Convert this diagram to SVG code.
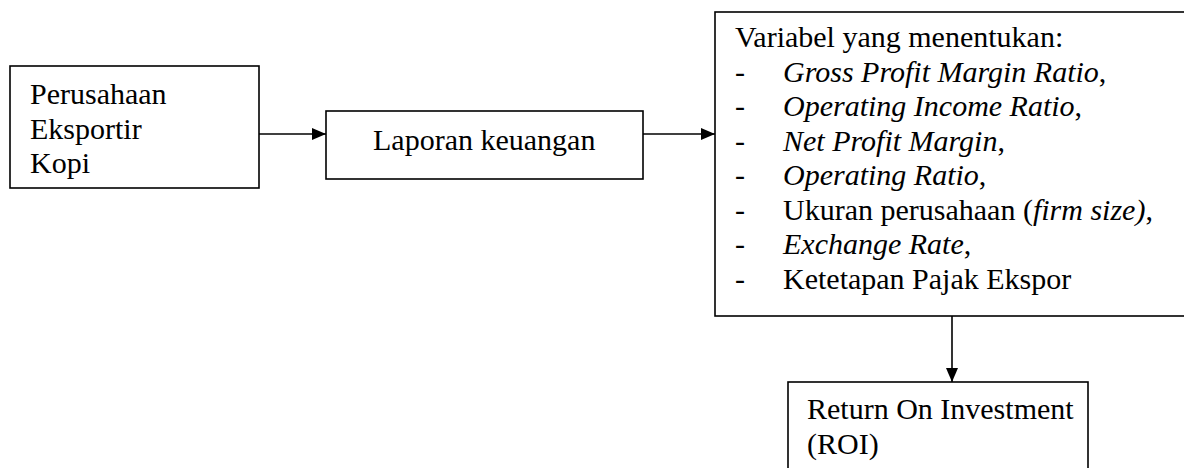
<svg xmlns="http://www.w3.org/2000/svg" width="1184" height="468" viewBox="0 0 1184 468">
  <style>
    .box { fill: #ffffff; stroke: #000000; stroke-width: 1.6; }
    .txt { font-family: "Liberation Serif", "Times New Roman", serif; font-size: 30px; fill: #000000; }
    .it { font-style: italic; }
    .link { fill: none; stroke: #000000; stroke-width: 1.6; }
  </style>
  <defs>
    <marker id="arrowHead" viewBox="0 0 14 12" refX="14" refY="6" markerWidth="14" markerHeight="12" markerUnits="userSpaceOnUse" orient="auto">
      <path d="M0,0 L14,6 L0,12 Z" fill="#000000"/>
    </marker>
  </defs>
  <rect width="1184" height="468" fill="#ffffff"/>

  <!-- company node -->
  <g id="perusahaan">
    <rect class="box" x="10" y="66" width="249" height="122"/>
    <text class="txt" x="30" y="104">Perusahaan</text>
    <text class="txt" x="30" y="138.5">Eksportir</text>
    <text class="txt" x="30" y="173">Kopi</text>
  </g>

  <!-- financial report node -->
  <g id="laporan">
    <rect class="box" x="326" y="111" width="317" height="68"/>
    <text class="txt" x="373" y="150">Laporan keuangan</text>
  </g>

  <!-- determining variables node (runs past the right edge) -->
  <g id="variabel">
    <rect class="box" x="715" y="12" width="480" height="304"/>
    <text class="txt" x="735" y="47">Variabel yang menentukan:</text>
    <text class="txt" x="735" y="81.5">-</text>
    <text class="txt" x="783" y="81.5"><tspan class="it">Gross Profit Margin Ratio</tspan>,</text>
    <text class="txt" x="735" y="116">-</text>
    <text class="txt" x="783" y="116"><tspan class="it">Operating Income Ratio</tspan>,</text>
    <text class="txt" x="735" y="150.5">-</text>
    <text class="txt" x="783" y="150.5"><tspan class="it">Net Profit Margin</tspan>,</text>
    <text class="txt" x="735" y="185">-</text>
    <text class="txt" x="783" y="185"><tspan class="it">Operating Ratio</tspan>,</text>
    <text class="txt" x="735" y="219.5">-</text>
    <text class="txt" x="783" y="219.5">Ukuran perusahaan (<tspan class="it">firm size)</tspan>,</text>
    <text class="txt" x="735" y="254">-</text>
    <text class="txt" x="783" y="254"><tspan class="it">Exchange Rate</tspan>,</text>
    <text class="txt" x="735" y="288.5">-</text>
    <text class="txt" x="783" y="288.5">Ketetapan Pajak Ekspor</text>
  </g>

  <!-- ROI node (cut at the bottom edge) -->
  <g id="roi">
    <rect class="box" x="788" y="382" width="300" height="100"/>
    <text class="txt" x="807" y="419">Return On Investment</text>
    <text class="txt" x="807" y="454">(ROI)</text>
  </g>

  <!-- connectors -->
  <g id="connectors">
    <line class="link" x1="259" y1="134" x2="326" y2="134" marker-end="url(#arrowHead)"/>
    <line class="link" x1="643" y1="134" x2="715" y2="134" marker-end="url(#arrowHead)"/>
    <line class="link" x1="952" y1="316" x2="952" y2="382" marker-end="url(#arrowHead)"/>
  </g>
</svg>
